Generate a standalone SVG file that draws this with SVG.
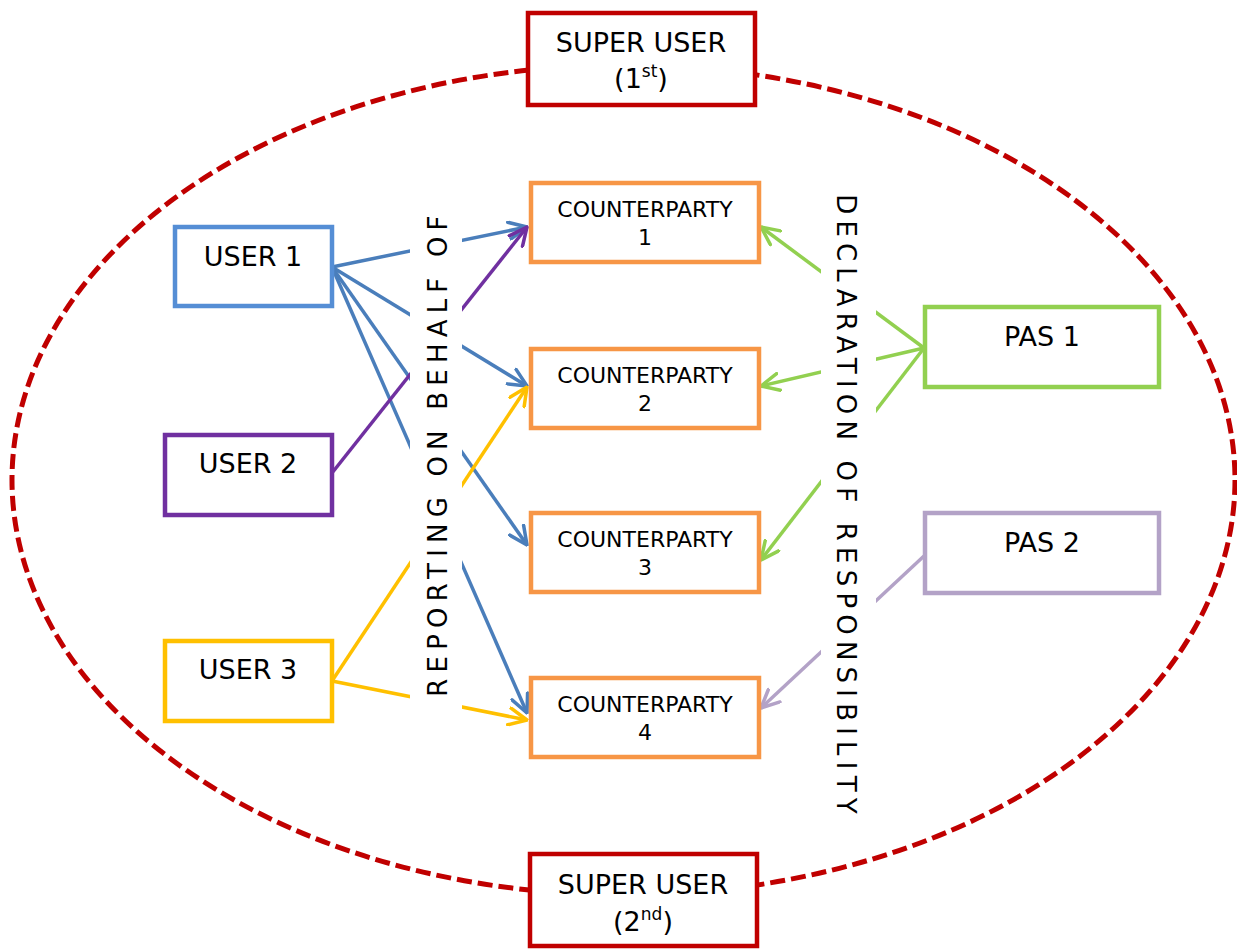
<svg xmlns="http://www.w3.org/2000/svg" width="1237" height="949" viewBox="0 0 1237 949">
<style>
text{font-family:"DejaVu Sans","Verdana",sans-serif;fill:#000}
.lbl{font-size:27px;text-anchor:middle}
.cp{font-size:22px;text-anchor:middle}
.vt{font-size:26px;text-anchor:middle;letter-spacing:6.2px}
.box{fill:#fff;stroke-width:4.5}
.c{fill:none;stroke-width:3.5}
</style>
<defs>
<marker id="aB" viewBox="0 0 21 20" refX="19.5" refY="10" markerWidth="21" markerHeight="20" markerUnits="userSpaceOnUse" orient="auto"><path d="M1.5,1.5 L19.5,10 L1.5,18.5" fill="none" stroke="#4A7EBB" stroke-width="3.5" stroke-linecap="round" stroke-linejoin="round"/></marker>
<marker id="aP" viewBox="0 0 21 20" refX="19.5" refY="10" markerWidth="21" markerHeight="20" markerUnits="userSpaceOnUse" orient="auto"><path d="M1.5,1.5 L19.5,10 L1.5,18.5" fill="none" stroke="#7030A0" stroke-width="3.5" stroke-linecap="round" stroke-linejoin="round"/></marker>
<marker id="aY" viewBox="0 0 21 20" refX="19.5" refY="10" markerWidth="21" markerHeight="20" markerUnits="userSpaceOnUse" orient="auto"><path d="M1.5,1.5 L19.5,10 L1.5,18.5" fill="none" stroke="#FFC000" stroke-width="3.5" stroke-linecap="round" stroke-linejoin="round"/></marker>
<marker id="aG" viewBox="0 0 21 20" refX="19.5" refY="10" markerWidth="21" markerHeight="20" markerUnits="userSpaceOnUse" orient="auto"><path d="M1.5,1.5 L19.5,10 L1.5,18.5" fill="none" stroke="#92D050" stroke-width="3.5" stroke-linecap="round" stroke-linejoin="round"/></marker>
<marker id="aL" viewBox="0 0 21 20" refX="19.5" refY="10" markerWidth="21" markerHeight="20" markerUnits="userSpaceOnUse" orient="auto"><path d="M1.5,1.5 L19.5,10 L1.5,18.5" fill="none" stroke="#B3A2C7" stroke-width="3.5" stroke-linecap="round" stroke-linejoin="round"/></marker>
</defs>
<rect width="1237" height="949" fill="#fff"/>
<ellipse id="boundary" cx="623.5" cy="480" rx="611.5" ry="415" fill="none" stroke="#C00000" stroke-width="5" stroke-dasharray="15 6"/>
<g id="connectors">
<line class="c" stroke="#4A7EBB" x1="332" y1="267" x2="527" y2="227" marker-end="url(#aB)"/>
<line class="c" stroke="#4A7EBB" x1="332" y1="267" x2="527" y2="386" marker-end="url(#aB)"/>
<line class="c" stroke="#4A7EBB" x1="332" y1="267" x2="527" y2="545" marker-end="url(#aB)"/>
<line class="c" stroke="#4A7EBB" x1="332" y1="267" x2="527" y2="713" marker-end="url(#aB)"/>
<line class="c" stroke="#7030A0" x1="332" y1="473" x2="527" y2="227" marker-end="url(#aP)"/>
<line class="c" stroke="#FFC000" x1="332" y1="681" x2="527" y2="387" marker-end="url(#aY)"/>
<line class="c" stroke="#FFC000" x1="332" y1="681" x2="527" y2="720" marker-end="url(#aY)"/>
<line class="c" stroke="#92D050" x1="924" y1="348" x2="761" y2="227" marker-end="url(#aG)"/>
<line class="c" stroke="#92D050" x1="924" y1="348" x2="761" y2="386" marker-end="url(#aG)"/>
<line class="c" stroke="#92D050" x1="924" y1="348" x2="761" y2="560" marker-end="url(#aG)"/>
<line class="c" stroke="#B3A2C7" x1="924" y1="556" x2="761" y2="708" marker-end="url(#aL)"/>
</g>
<g id="label-reporting">
<rect x="410" y="200" width="52" height="525" fill="#fff"/>
<text class="vt" transform="translate(447,453) rotate(-90)">REPORTING ON BEHALF OF</text>
</g>
<g id="label-declaration">
<rect x="821" y="185" width="55" height="640" fill="#fff"/>
<text class="vt" transform="translate(837,507) rotate(90)">DECLARATION OF RESPONSIBILITY</text>
</g>
<g id="super-user-1">
<rect class="box" stroke="#C00000" x="528" y="13" width="227" height="92"/>
<text class="lbl" x="641" y="52">SUPER USER</text>
<text class="lbl" x="641" y="88">(1<tspan font-size="17" dy="-11">st</tspan><tspan dy="11">)</tspan></text>
</g>
<g id="super-user-2">
<rect class="box" stroke="#C00000" x="530" y="854" width="227" height="92"/>
<text class="lbl" x="643" y="894">SUPER USER</text>
<text class="lbl" x="643" y="931">(2<tspan font-size="17" dy="-11">nd</tspan><tspan dy="11">)</tspan></text>
</g>
<g id="user-1">
<rect class="box" stroke="#558ED5" x="175" y="227" width="157" height="79"/>
<text class="lbl" x="253" y="266">USER 1</text>
</g>
<g id="user-2">
<rect class="box" stroke="#7030A0" x="165" y="435" width="167" height="80"/>
<text class="lbl" x="248" y="473">USER 2</text>
</g>
<g id="user-3">
<rect class="box" stroke="#FFC000" x="165" y="641" width="167" height="80"/>
<text class="lbl" x="248" y="679">USER 3</text>
</g>
<g id="counterparty-1">
<rect class="box" stroke="#F79646" x="531" y="183" width="228" height="79"/>
<text class="cp" x="645" y="217">COUNTERPARTY</text>
<text class="cp" x="645" y="245">1</text>
</g>
<g id="counterparty-2">
<rect class="box" stroke="#F79646" x="531" y="349" width="228" height="79"/>
<text class="cp" x="645" y="383">COUNTERPARTY</text>
<text class="cp" x="645" y="411">2</text>
</g>
<g id="counterparty-3">
<rect class="box" stroke="#F79646" x="531" y="513" width="228" height="79"/>
<text class="cp" x="645" y="547">COUNTERPARTY</text>
<text class="cp" x="645" y="575">3</text>
</g>
<g id="counterparty-4">
<rect class="box" stroke="#F79646" x="531" y="678" width="228" height="79"/>
<text class="cp" x="645" y="712">COUNTERPARTY</text>
<text class="cp" x="645" y="740">4</text>
</g>
<g id="pas-1">
<rect class="box" stroke="#92D050" x="925" y="307" width="234" height="80"/>
<text class="lbl" x="1042" y="346">PAS 1</text>
</g>
<g id="pas-2">
<rect class="box" stroke="#B3A2C7" x="925" y="513" width="234" height="80"/>
<text class="lbl" x="1042" y="552">PAS 2</text>
</g>
</svg>
